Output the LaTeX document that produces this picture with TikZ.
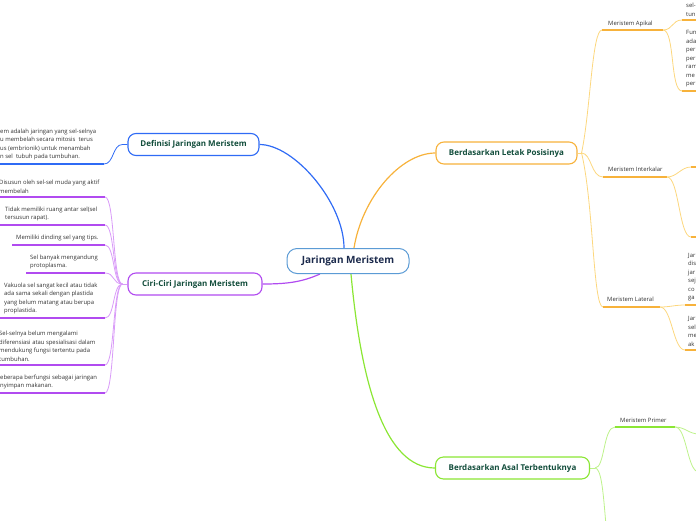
\documentclass[tikz,border=0pt]{standalone}
\usepackage{fontspec}
\setmainfont{Open Sans}
\definecolor{cblue}{HTML}{2F6BF5}
\definecolor{croot}{HTML}{5B9BD5}
\definecolor{corange}{HTML}{F7B23B}
\definecolor{corangel}{HTML}{FCD77E}
\definecolor{cpurple}{HTML}{B14BF0}
\definecolor{cpurplel}{HTML}{D99BF8}
\definecolor{cgreen}{HTML}{8BE634}
\definecolor{cgreenl}{HTML}{BDF28A}
\definecolor{ctitle}{HTML}{124D3B}
\definecolor{croottext}{HTML}{1C2B4D}
\definecolor{ctext}{HTML}{333333}
\pgfdeclarelayer{bg}
\pgfsetlayers{bg,main}
\tikzset{
  topic/.style={draw, rounded corners=8pt, line width=1.1pt, fill=white, minimum height=22pt, inner sep=2pt, text=ctitle, font=\fontsize{8}{9}\selectfont\bfseries},
  rootbox/.style={draw=croot, rounded corners=10pt, line width=1pt, fill=white, minimum width=122pt, minimum height=25pt, text=croottext, font=\fontsize{10}{11}\selectfont\bfseries},
  leaf/.style={inner sep=0pt, align=left, text=ctext, font=\fontsize{5.9}{8.5}\selectfont, anchor=south west},
  sublabel/.style={inner sep=0pt, text=ctext, font=\fontsize{5.9}{7}\selectfont, anchor=base west},
  mainconn/.style={line width=1.2pt},
  conn/.style={line width=0.8pt},
  uline/.style={line width=1.6pt},
}
\begin{document}
\begin{tikzpicture}[x=1pt,y=-1pt]
\useasboundingbox (0,0) rectangle (696,520);
\clip (0,0) rectangle (696,520);

% main nodes
\node[rootbox] (root) at (348,261) {Jaringan Meristem};
\node[topic, draw=cblue, minimum width=131pt] (def) at (193.5,144.5) {Definisi Jaringan Meristem};
\node[topic, draw=cpurple, minimum width=134pt] (ciri) at (195,284) {Ciri-Ciri Jaringan Meristem};
\node[topic, draw=corange, minimum width=141pt] (letak) at (506.5,153) {Berdasarkan Letak Posisinya};
\node[topic, draw=cgreen, minimum width=154pt] (asal) at (512.5,468) {Berdasarkan Asal Terbentuknya};

% hub coordinates
\coordinate (dk) at ([xshift=-5pt]def.west);
\coordinate (ck) at ([xshift=-5pt]ciri.west);
\coordinate (lk) at ([xshift=4pt]letak.east);
\coordinate (ak) at ([xshift=5pt]asal.east);

% Definisi leaf
\node[leaf] (d1) at (0,160.5) {em adalah jaringan yang sel-selnya\\u membelah secara mitosis\ \ terus\\us (embrionik) untuk menambah\\n sel\ \ tubuh pada tumbuhan.};
\coordinate (d1L) at (0,164); \coordinate (d1R) at (104,164);

% Ciri leaves
\node[leaf] (c1) at (-1,193.5) {Disusun oleh sel-sel muda yang aktif\\membelah};
\coordinate (c1L) at (0,197); \coordinate (c1R) at (105,197);
\node[leaf] (c2) at (5,221.5) {Tidak memiliki ruang antar sel(sel\\tersusun rapat).};
\coordinate (c2L) at (0,225); \coordinate (c2R) at (105,225);
\node[leaf] (c3) at (16,241.5) {Memiliki dinding sel yang tips.};
\coordinate (c3L) at (12,245); \coordinate (c3R) at (105,245);
\node[leaf] (c4) at (30,269.5) {Sel banyak mengandung\\protoplasma.};
\coordinate (c4L) at (26,273); \coordinate (c4R) at (105,273);
\node[leaf] (c5) at (4,314.5) {Vakuola sel sangat kecil atau tidak\\ada sama sekali dengan plastida\\yang belum matang atau berupa\\proplastida.};
\coordinate (c5L) at (0,318); \coordinate (c5R) at (105,318);
\node[leaf] (c6) at (-1,361.5) {Sel-selnya belum mengalami\\diferensiasi atau spesialisasi dalam\\mendukung fungsi tertentu pada\\tumbuhan.};
\coordinate (c6L) at (0,365); \coordinate (c6R) at (105,365);
\node[leaf] (c7) at (0,389.5) {eberapa berfungsi sebagai jaringan\\nyimpan makanan.};
\coordinate (c7L) at (0,393); \coordinate (c7R) at (105,393);

% Letak sub topics
\node[sublabel] (ap) at (608,25) {Meristem Apikal};
\coordinate (apL) at (602,30); \coordinate (apR) at (663,30);
\node[sublabel] (ik) at (608,171) {Meristem Interkalar};
\coordinate (ikL) at (603,177); \coordinate (ikR) at (667,177);
\node[sublabel] (lt) at (607,301) {Meristem Lateral};
\coordinate (ltL) at (603,307); \coordinate (ltR) at (660,307);

% Letak leaves
\node[leaf] (a1) at (686,16.5) {sel-\\tun};
\coordinate (a1L) at (682,20); \coordinate (a1R) at (700,20);
\node[leaf] (a2) at (686,87.5) {Fun\\ada\\per\\per\\ram\\me\\per};
\coordinate (a2L) at (682,91); \coordinate (a2R) at (700,91);
\coordinate (i1L) at (691,167); \coordinate (i1R) at (700,167);
\coordinate (i2L) at (691,237); \coordinate (i2R) at (700,237);
\node[leaf] (l1) at (688,301.5) {Jar\\dis\\jar\\sej\\co\\ga};
\coordinate (l1L) at (685,305); \coordinate (l1R) at (700,305);
\node[leaf] (l2) at (688,346.5) {Jar\\sel\\me\\ak};
\coordinate (l2L) at (685,350); \coordinate (l2R) at (700,350);

% Asal sub topics
\node[sublabel] (pr) at (620,422) {Meristem Primer};
\coordinate (prL) at (615,427); \coordinate (prR) at (675,427);
\coordinate (skL) at (615,560);
\coordinate (p1L) at (699,434);
\coordinate (p2L) at (699,472);

\begin{pgfonlayer}{bg}
% main connectors
\draw[mainconn, cblue] (def.east) .. controls +(35,0) and +(0,-45) .. ([xshift=-4pt]root.north);
\draw[mainconn, corange] ([xshift=6pt]root.north) .. controls +(8,-50) and +(-35,0) .. (letak.west);
\draw[mainconn, cpurple] ([xshift=-28pt]root.south) .. controls +(-18,8) and +(25,0) .. (ciri.east);
\draw[mainconn, cgreen] ([xshift=3pt]root.south) .. controls +(10,110) and +(-50,0) .. (asal.west);

% Definisi
\draw[conn, cblue] (def.west) -- (dk) .. controls +(-10,0) and +(10,0) .. (d1R);
\draw[uline, cblue] (d1L) -- (d1R);

% Ciri
\draw[conn, cpurplel] (ciri.west) -- (ck);
\foreach \i in {1,...,7}{
  \draw[conn, cpurplel] (ck) .. controls +(-10,0) and +(10,0) .. (c\i R);
  \draw[uline, cpurple] (c\i L) -- (c\i R);
}

% Letak
\draw[conn, corangel] (letak.east) -- (lk);
\draw[conn, corangel] (lk) .. controls +(9,-43) and +(-10,0) .. (apL);
\draw[conn, corangel] (lk) .. controls +(10,0) and +(-12,0) .. (ikL);
\draw[conn, corangel] (lk) .. controls +(12,50) and +(-10,0) .. (ltL);
\draw[uline, corange] (apL) -- (apR);
\draw[uline, corange] (ikL) -- (ikR);
\draw[uline, corange] (ltL) -- (ltR);
\draw[conn, corangel] (apR) .. controls +(10,0) and +(-10,0) .. (a1L);
\draw[conn, corangel] (apR) .. controls +(12,0) and +(-12,0) .. (a2L);
\draw[conn, corangel] (ikR) .. controls +(10,0) and +(-10,0) .. (i1L);
\draw[conn, corangel] (ikR) .. controls +(12,0) and +(-12,0) .. (i2L);
\draw[conn, corangel] (ltR) .. controls +(10,0) and +(-10,0) .. (l1L);
\draw[conn, corangel] (ltR) .. controls +(12,0) and +(-12,0) .. (l2L);
\draw[uline, corange] (a1L) -- (a1R);
\draw[uline, corange] (a2L) -- (a2R);
\draw[uline, corange] (i1L) -- (i1R);
\draw[uline, corange] (i2L) -- (i2R);
\draw[uline, corange] (l1L) -- (l1R);
\draw[uline, corange] (l2L) -- (l2R);

% Asal
\draw[conn, cgreenl] (asal.east) -- (ak);
\draw[conn, cgreenl] (ak) .. controls +(10,0) and +(-12,0) .. (prL);
\draw[conn, cgreenl] (ak) .. controls +(12,0) and +(-12,0) .. (skL);
\draw[uline, cgreen] (prL) -- (prR);
\draw[conn, cgreenl] (prR) .. controls +(10,0) and +(-10,0) .. (p1L);
\draw[conn, cgreenl] (prR) .. controls +(12,0) and +(-12,0) .. (p2L);
\end{pgfonlayer}
\end{tikzpicture}
\end{document}
